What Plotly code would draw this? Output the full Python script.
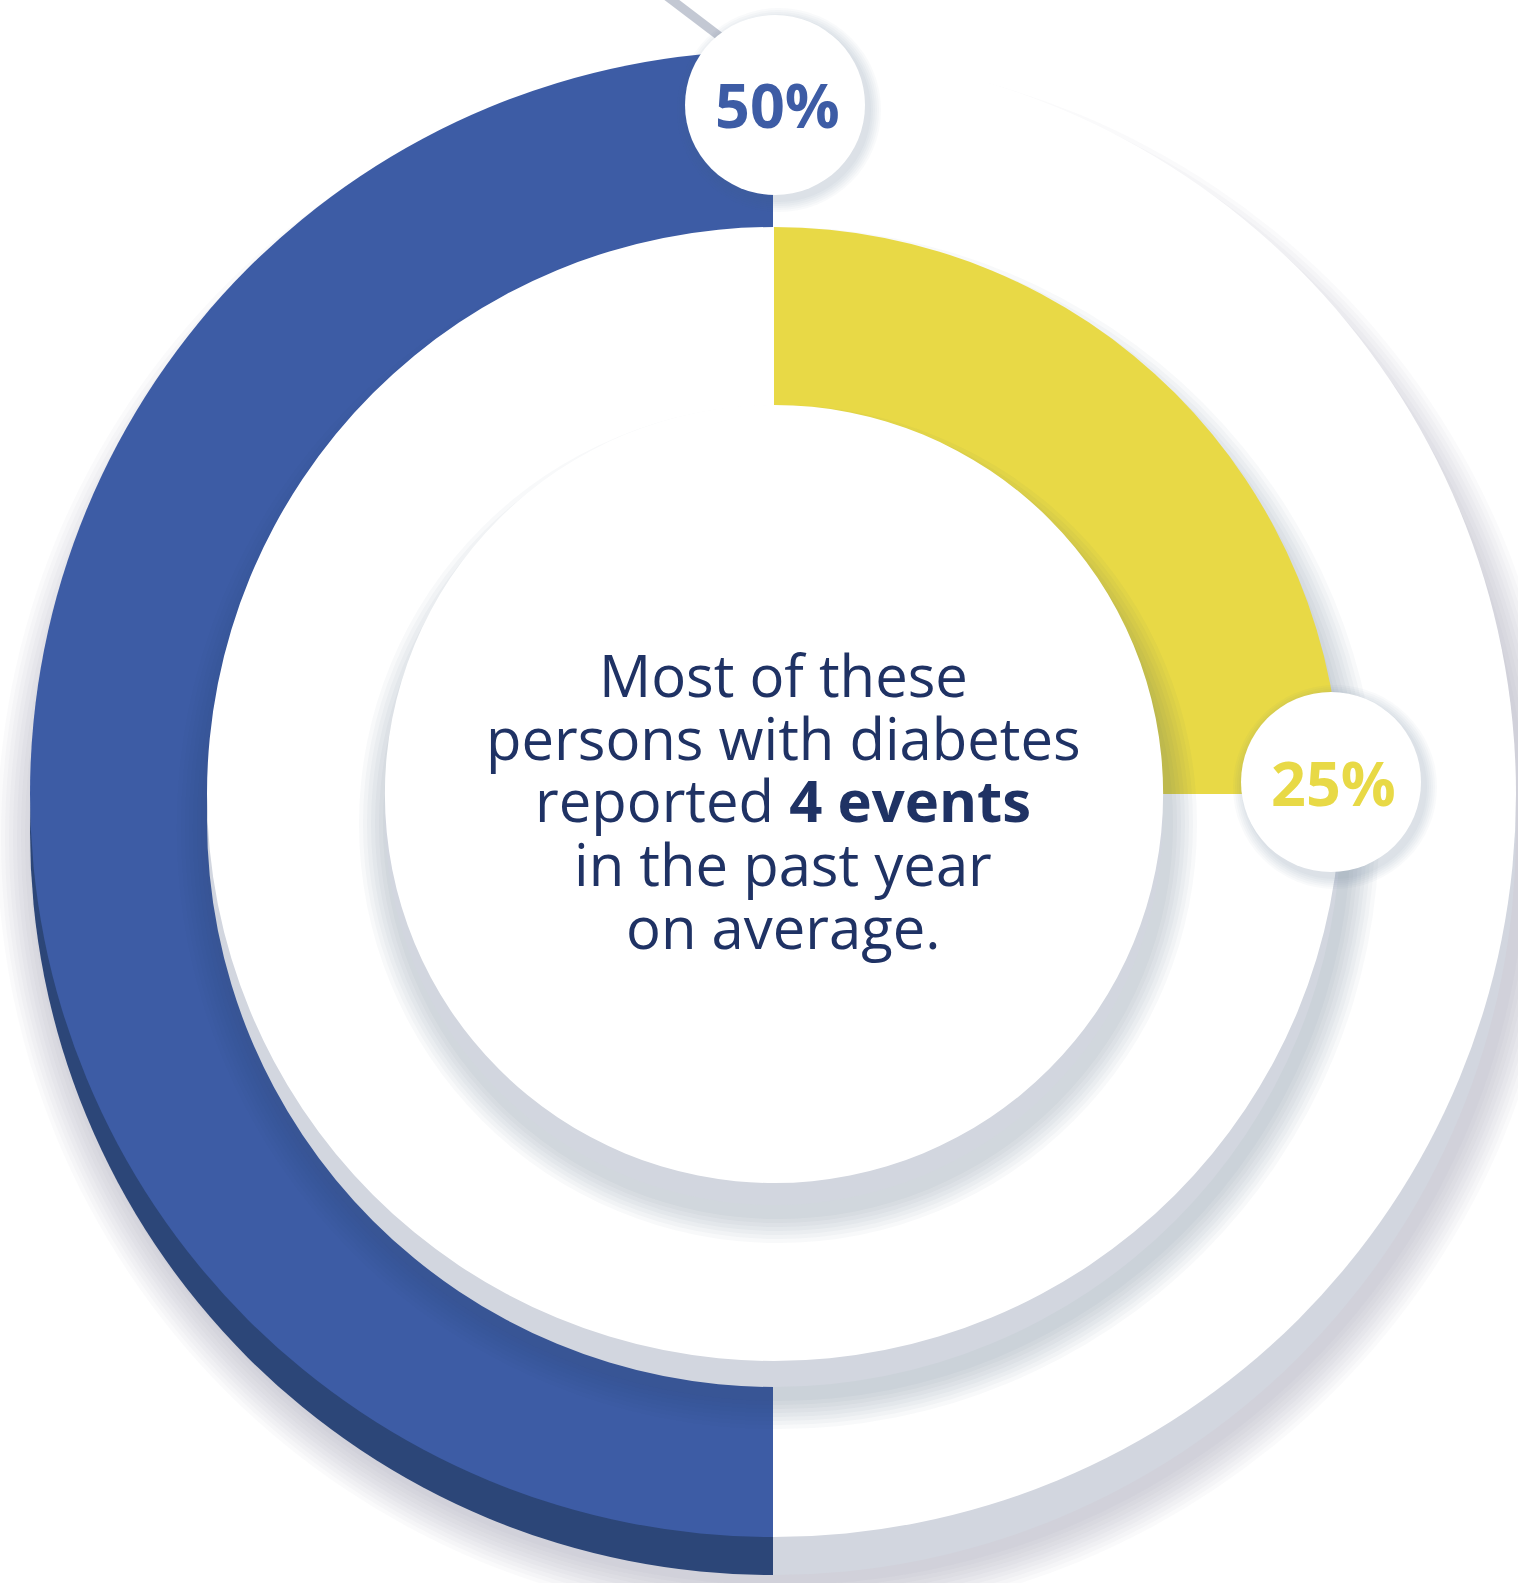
import plotly.graph_objects as go

# ---------------- data ----------------
outer_labels = ["Reported events", "Other"]
outer_values = [50, 50]
inner_labels = ["Reported events", "Other"]
inner_values = [25, 75]
center_lines = ["Most of these", "persons with diabetes",
                "reported <b>4 events</b>", "in the past year", "on average."]

# ---------------- styling ----------------
W, H = 1518, 1583
BLUE, BLUE_SIDE = "#3d5ca5", "#2c4678"
YELLOW, YELLOW_SIDE = "#e8d946", "#cdb940"
GREY_SIDE = "#d2d6df"
NAVY = "#1f3264"
SHADOW = "rgba(70,85,115,0.035)"

CX, CY = 774, 794
R_OUT, R_MID, R_CEN = 743, 567, 389
SIDE_OUT, SIDE_MID, SIDE_CEN = 38, 26, 22


def dom(cx, cy, r):
    return dict(x=[max(0, (cx - r) / W), min(1, (cx + r) / W)],
                y=[max(0, 1 - (cy + r) / H), min(1, 1 - (cy - r) / H)])


def disc(cx, cy, r, values, colors, rotation=0, hole=0):
    return go.Pie(values=values, marker=dict(colors=colors, line=dict(width=0)),
                  domain=dom(cx, cy, r), sort=False, direction="clockwise",
                  rotation=rotation, textinfo="none", hoverinfo="skip", hole=hole,
                  showlegend=False)


traces = []
# outer disc (blue half on the left: start at 6 o'clock, go clockwise)
traces.append(disc(CX - 1, CY + SIDE_OUT, R_OUT, outer_values, [BLUE_SIDE, GREY_SIDE], rotation=180))
traces.append(disc(CX - 1, CY, R_OUT, outer_values, [BLUE, "#ffffff"], rotation=180))
# soft shadow of middle disc on the outer ring
for k in range(8):
    traces.append(disc(CX + 4, CY + 34, R_MID + 34 - 4 * k, [1], [SHADOW]))
# middle disc: side then face
traces.append(disc(CX, CY + SIDE_MID, R_MID, inner_values, [YELLOW_SIDE, GREY_SIDE]))
traces.append(disc(CX, CY, R_MID, inner_values, [YELLOW, "#ffffff"]))
# soft shadow of center disc
for k in range(7):
    traces.append(disc(CX + 4, CY + 30, R_CEN + 30 - 4 * k, [1], [SHADOW]))
traces.append(disc(CX, CY + SIDE_CEN, R_CEN, [1], [GREY_SIDE]))
traces.append(disc(CX, CY, R_CEN, [1], ["#ffffff"]))

# label bubbles
bubbles = [(775, 105, BLUE, outer_values[0]), (1331, 782, YELLOW, inner_values[0])]
for bx, by, col, val in bubbles:
    for k in range(6):
        traces.append(disc(bx + 4, by + 5, 90 + 12 - 2 * k, [1], ["rgba(90,100,140,0.035)"]))
    traces.append(disc(bx, by, 90, [1], ["#ffffff"]))

fig = go.Figure(traces)

# outer soft shadow + leader line (below pies)
shapes = []
for k in range(10):
    r = R_OUT + 40 - 4 * k
    cx, cy = CX + 6, CY + SIDE_OUT + 6
    shapes.append(dict(type="circle", xref="paper", yref="paper", layer="below",
                       x0=(cx - r) / W, x1=(cx + r) / W, y0=1 - (cy + r) / H, y1=1 - (cy - r) / H,
                       fillcolor="rgba(110,120,150,0.035)", line=dict(width=0)))
shapes.append(dict(type="line", xref="paper", yref="paper", layer="below",
                   x0=664 / W, y0=1 - (-6) / H, x1=735 / W, y1=1 - 48 / H,
                   line=dict(color="#c3c8d3", width=9)))

annotations = []
baselines = [694, 757, 820, 883, 946]
TEXT_X = CX + 9
for txt, yb in zip(center_lines, baselines):
    annotations.append(dict(text=txt, x=TEXT_X / W, y=1 - (yb - 20) / H, xref="paper", yref="paper",
                            xanchor="center", yanchor="middle", showarrow=False,
                            font=dict(family="Open Sans", size=58, color=NAVY)))
for bx, by, col, val in bubbles:
    annotations.append(dict(text=f"<b>{val}%</b>", x=(bx + 2) / W, y=1 - by / H, xref="paper", yref="paper",
                            xanchor="center", yanchor="middle", showarrow=False,
                            font=dict(family="Open Sans", size=61, color=col)))

fig.update_layout(width=W, height=H, margin=dict(l=0, r=0, t=0, b=0),
                  paper_bgcolor="white", plot_bgcolor="white", showlegend=False,
                  shapes=shapes, annotations=annotations)
fig.write_html("out.html")
